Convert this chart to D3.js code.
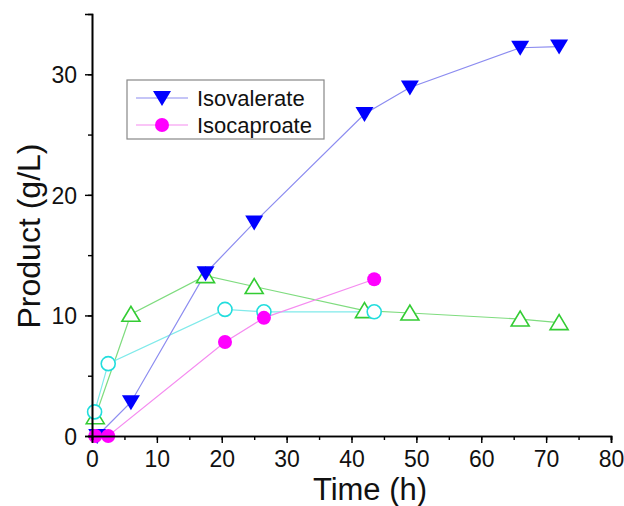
<!DOCTYPE html>
<html>
<head>
<meta charset="utf-8">
<script src="https://cdn.jsdelivr.net/npm/d3@7"></script>
<style>
  body { margin: 0; background: #fff; }
  svg { font-family: "Liberation Sans", Arial, sans-serif; }
</style>
</head>
<body>
<svg id="chart" width="624" height="506"></svg>
<script>
// values
const isovalerateTime = [0.8, 6, 17.5, 25, 42, 49, 66, 72];
const isovalerateValue = [0, 2.8, 13.5, 17.7, 26.7, 28.9, 32.2, 32.3];
const isocaproateTime = [0.5, 2.5, 20.5, 26.5, 43.5];
const isocaproateValue = [0, 0, 7.8, 9.8, 13.0];
const cyanTime = [0.4, 2.5, 20.5, 26.5, 43.5];
const cyanValue = [2.0, 6.0, 10.5, 10.3, 10.3];
const greenTime = [0.5, 6, 17.5, 25, 42, 49, 66, 72];
const greenValue = [1.6, 10.1, 13.3, 12.4, 10.4, 10.2, 9.7, 9.4];
const xTicks = [0, 10, 20, 30, 40, 50, 60, 70, 80];
const yTicks = [0, 10, 20, 30];

const svg = d3.select('#chart');
const x = d3.scaleLinear().domain([0, 80]).range([92, 611]);
const y = d3.scaleLinear().domain([0, 35]).range([436, 14]);

const zip = (xs, ys) => xs.map((t, i) => ({ t: t, v: ys[i] }));
const green = { name: 'green', data: zip(greenTime, greenValue), line: '#7fdc7f', color: '#33cc33', shape: 'up', fill: '#fff' };
const cyan = { name: 'cyan', data: zip(cyanTime, cyanValue), line: '#80eaea', color: '#22dddd', shape: 'circle', fill: '#fff' };
const isocaproate = { name: 'Isocaproate', data: zip(isocaproateTime, isocaproateValue), line: '#f58cf0', color: '#ff00ff', shape: 'circle', fill: '#ff00ff' };
const isovalerate = { name: 'Isovalerate', data: zip(isovalerateTime, isovalerateValue), line: '#8c8cf0', color: '#0000ff', shape: 'down', fill: '#0000ff' };
const series = [green, cyan, isovalerate, isocaproate];

const line = d3.line().x(d => x(d.t)).y(d => y(d.v));

const marker = (sel, s) => {
  if (s.shape === 'circle') {
    sel.append('circle').attr('r', 7);
  } else if (s.shape === 'down') {
    sel.append('path').attr('d', 'M-9,-7L9,-7L0,8Z');
  } else {
    sel.append('path').attr('d', 'M-9,7L9,7L0,-8Z');
  }
  sel.selectAll('circle,path')
    .attr('fill', s.fill)
    .attr('stroke', s.color)
    .attr('stroke-width', s.fill === '#fff' ? 1.6 : 0);
};

series.forEach(s => {
  svg.append('path').datum(s.data)
    .attr('d', line)
    .attr('fill', 'none')
    .attr('stroke', s.line)
    .attr('stroke-width', 1.2);
});
series.forEach(s => {
  svg.append('g').selectAll('g').data(s.data).join('g')
    .attr('transform', d => `translate(${x(d.t)},${y(d.v)})`)
    .each(function () { marker(d3.select(this), s); });
});

// axes
const xAxis = svg.append('g').attr('transform', 'translate(0,436)');
xAxis.call(d3.axisBottom(x).tickValues(d3.range(0, 81, 5)).tickSize(4).tickFormat(''));
xAxis.call(g => g.append('g').call(d3.axisBottom(x).tickValues(xTicks).tickSize(7).tickFormat(d3.format('d'))));
const yAxis = svg.append('g').attr('transform', 'translate(92,0)');
yAxis.call(d3.axisLeft(y).tickValues(d3.range(0, 35, 5)).tickSize(4).tickFormat(''));
yAxis.call(g => g.append('g').call(d3.axisLeft(y).tickValues(yTicks).tickSize(7).tickFormat(d3.format('d'))));
svg.selectAll('.domain').attr('stroke', '#000').attr('stroke-width', 1.6);
svg.selectAll('.tick line').attr('stroke', '#000').attr('stroke-width', 1.4);
svg.selectAll('.tick text').attr('font-size', 23).attr('fill', '#111')
  .attr('font-family', '"Liberation Sans", Arial, sans-serif');
xAxis.selectAll('.tick text').attr('y', 31).attr('dy', 0);
yAxis.selectAll('.tick text').attr('x', -15).attr('dy', '0.36em');

svg.append('text').attr('x', 370).attr('y', 500).attr('text-anchor', 'middle')
  .attr('font-size', 31).attr('fill', '#111').text('Time (h)');
svg.append('text').attr('transform', 'translate(40,236) rotate(-90)').attr('text-anchor', 'middle')
  .attr('font-size', 32).attr('fill', '#111').text('Product (g/L)');

// legend
const legend = svg.append('g');
legend.append('rect').attr('x', 127).attr('y', 80).attr('width', 197).attr('height', 59)
  .attr('fill', '#fff').attr('stroke', '#888').attr('stroke-width', 1.2);
[isovalerate, isocaproate].forEach((s, i) => {
  const cy = 98 + i * 27;
  legend.append('line').attr('x1', 136).attr('x2', 188).attr('y1', cy).attr('y2', cy)
    .attr('stroke', s.line).attr('stroke-width', 1.2);
  const m = legend.append('g').attr('transform', `translate(162,${cy})`);
  marker(m, s);
  legend.append('text').attr('x', 197).attr('y', cy + 8).attr('font-size', 22).attr('fill', '#111').text(s.name);
});
</script>
</body>
</html>
